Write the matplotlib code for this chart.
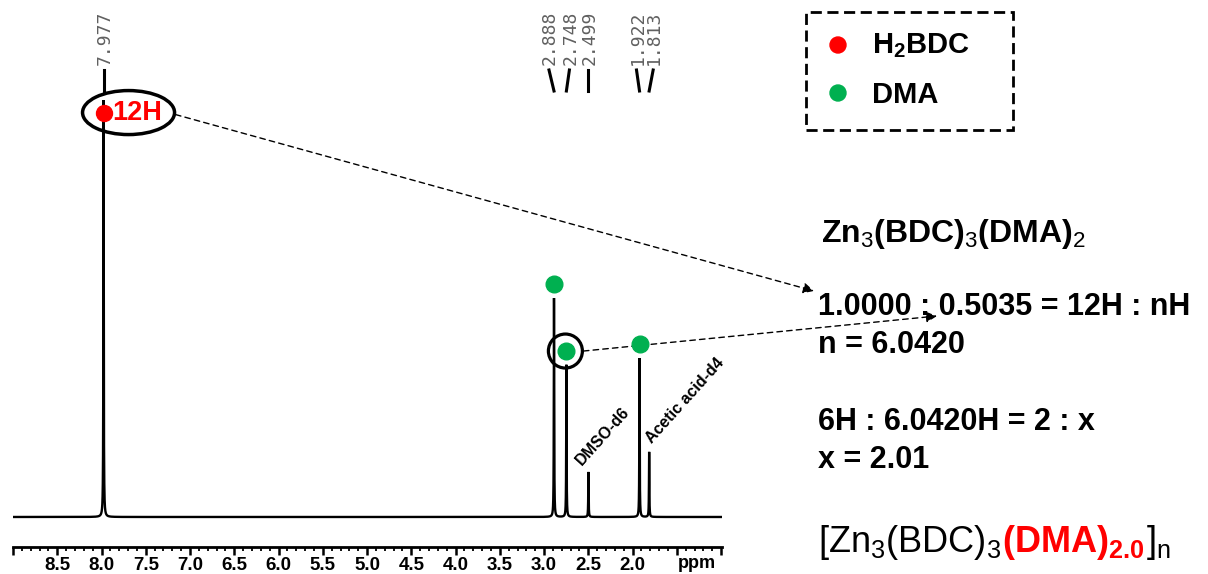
import numpy as np
import matplotlib
matplotlib.use("Agg")
import matplotlib.pyplot as plt
from matplotlib.patches import Ellipse, Rectangle, Circle
from matplotlib.lines import Line2D

plt.rcParams['font.family'] = ['Liberation Sans', 'DejaVu Sans']
plt.rcParams['mathtext.fontset'] = 'custom'
plt.rcParams['mathtext.rm'] = 'Liberation Sans'
plt.rcParams['mathtext.bf'] = 'Liberation Sans:bold'
plt.rcParams['mathtext.it'] = 'Liberation Sans:italic'

"""1H NMR peak list (ppm, relative height)"""
peak_ppm = [7.977, 2.888, 2.748, 2.499, 1.922, 1.813]
peak_height = [100.0, 52.5, 36.5, 10.8, 38.1, 15.6]
peak_labels = ["7.977", "2.888", "2.748", "2.499", "1.922", "1.813"]

# which peaks carry a marker: H2BDC (red) or DMA (green)
h2bdc_peaks = [7.977]
dma_peaks = [2.888, 2.748, 1.922]
solvent_peaks = {"DMSO-d6": 2.499, "Acetic acid-d4": 1.813}

major_ticks = [9.0, 8.5, 8.0, 7.5, 7.0, 6.5, 6.0, 5.5, 5.0, 4.5, 4.0, 3.5, 3.0, 2.5, 2.0, 1.5, 1.0]
tick_labels = ["", "8.5", "8.0", "7.5", "7.0", "6.5", "6.0", "5.5", "5.0", "4.5",
               "4.0", "3.5", "3.0", "2.5", "2.0", "", ""]

calc_lines = ["1.0000 : 0.5035 = 12H : nH", "n = 6.0420", "6H : 6.0420H = 2 : x", "x = 2.01"]

RED = "#ff0000"
GREEN = "#00b050"
W, H, DPI = 1208, 574, 100

fig = plt.figure(figsize=(W / DPI, H / DPI), dpi=DPI)


def px(x, y):
    """pixel position measured from the top-left corner -> inches for dpi_scale_trans"""
    return x / DPI, (H - y) / DPI


inch = fig.dpi_scale_trans

ax = fig.add_axes([13 / W, 1 - 547 / H, (722 - 13) / W, 547 / H])
ax.set_xlim(9.0, 0.99)
ax.set_ylim(-7.2, 124)

# spectrum built from the peak list (Lorentzian lines)
x = np.linspace(9.0, 0.99, 16021)
gamma = 0.0025
y = np.zeros_like(x)
for p, h in zip(peak_ppm, peak_height):
    y += h * gamma ** 2 / ((x - p) ** 2 + gamma ** 2)
ax.plot(x, y, color="black", lw=1.7, solid_joinstyle="miter")

for s in ["top", "left", "right"]:
    ax.spines[s].set_visible(False)
ax.spines["bottom"].set_linewidth(2)
ax.set_yticks([])
ax.set_xticks(major_ticks)
ax.set_xticklabels(tick_labels, fontweight="bold", fontsize=13.5)
ax.xaxis.set_minor_locator(matplotlib.ticker.MultipleLocator(0.1))
ax.tick_params(axis="x", which="major", length=6, width=1.8, pad=1)
ax.tick_params(axis="x", which="minor", length=3, width=1.3)
ax.patch.set_alpha(0)
fig.text(697 / W, 1 - 563 / H, "ppm", fontweight="bold", fontsize=13, ha="center", va="center")


def data_px(p, h):
    """data coords -> pixel position measured from the top"""
    dx, dy = ax.transData.transform((p, h))
    return dx, H - dy


# peak labels with connectors
label_shift = [0, -5, 3, 0, -3, 4]
for p, h, lab, sh in zip(peak_ppm, peak_height, peak_labels, label_shift):
    xp, _ = data_px(p, h)
    xl = xp + sh
    fig.text(*px(xl + 1, 65), lab, transform=inch, rotation=90, ha="center", va="bottom",
             fontsize=13, family="DejaVu Sans Mono", color="#606060")
    x0, y0 = px(xl, 70)
    x1, y1 = px(xp, 91)
    fig.add_artist(Line2D([x0, x1], [y0, y1], transform=inch, color="black", lw=2.2))

# H2BDC marker and 12H annotation
for p in h2bdc_peaks:
    h = peak_height[peak_ppm.index(p)]
    ax.plot(p, h - 3, "o", color=RED, ms=11.5, zorder=5)
    cx, cy = data_px(p, h - 3)
    fig.add_artist(Ellipse(px(cx + 25, cy), 0.92, 0.44, transform=inch, fill=False, lw=2.5, color="black"))
    fig.text(*px(cx + 9, cy), "12H", transform=inch, color=RED, fontsize=19.5, fontweight="bold",
             ha="left", va="center")
    ax.annotate("", xy=px(814, 291), xycoords=inch, xytext=px(cx + 72, cy + 2), textcoords=inch,
                arrowprops=dict(arrowstyle="-|>", color="black", lw=1, linestyle=(0, (4, 3)),
                                mutation_scale=16, shrinkA=0, shrinkB=0))

# DMA markers
for p in dma_peaks:
    h = peak_height[peak_ppm.index(p)]
    ax.plot(p, h + 3.3, "o", color=GREEN, ms=12, zorder=5)

# circled DMA peak used for the integral ratio
cx, cy = data_px(2.748, peak_height[2] + 3.3)
fig.add_artist(Circle(px(cx - 1, cy), 0.17, transform=inch, fill=False, lw=2.3, color="black"))
ax.annotate("", xy=px(937, 316), xycoords=inch, xytext=px(cx + 17, cy), textcoords=inch,
            arrowprops=dict(arrowstyle="-|>", color="black", lw=1, linestyle=(0, (4, 3)),
                            mutation_scale=16, shrinkA=0, shrinkB=0))

# solvent labels
solvent_offset = {"DMSO-d6": (-7, -6), "Acetic acid-d4": (3, -8)}
for name, p in solvent_peaks.items():
    h = peak_height[peak_ppm.index(p)]
    xp, yp = data_px(p, h)
    dx, dy = solvent_offset[name]
    fig.text(*px(xp + dx, yp + dy), name, transform=inch, rotation=48, rotation_mode="anchor",
             ha="left", va="baseline", fontsize=11.5, fontweight="bold")

# legend box
fig.add_artist(Rectangle(px(806, 130), 2.07, 1.18, transform=inch, fill=False, lw=2,
                         linestyle=(0, (4, 2)), color="black"))
fig.add_artist(Circle(px(838, 45), 0.08, transform=inch, color=RED))
fig.add_artist(Circle(px(838, 93), 0.08, transform=inch, color=GREEN))
fig.text(*px(872, 53), r"$\mathbf{H}_{\mathbf{2}}\mathbf{BDC}$", transform=inch, fontsize=21,
         ha="left", va="baseline")
fig.text(*px(872, 103), "DMA", transform=inch, fontsize=21, fontweight="bold", ha="left", va="baseline")

# formula and integral calculation
fig.text(*px(821, 242), r"$\mathbf{Zn}_{3}\mathbf{(BDC)}_{3}\mathbf{(DMA)}_{2}$", transform=inch,
         fontsize=23, ha="left", va="baseline")
for txt, base in zip(calc_lines, [315, 353, 430, 468]):
    fig.text(*px(818, base), txt, transform=inch, fontsize=22, fontweight="bold", ha="left", va="baseline")

renderer = fig.canvas.get_renderer()
xpos = 818
for txt, col in [(r"$\mathrm{[Zn}_{3}\mathrm{(BDC)}_{3}$", "black"),
                 (r"$\mathbf{(DMA)}_{\mathbf{2.0}}$", RED),
                 (r"$\mathrm{]}_{\mathrm{n}}$", "black")]:
    t = fig.text(*px(xpos, 552), txt, transform=inch, fontsize=26, color=col, ha="left", va="baseline")
    xpos = t.get_window_extent(renderer).x1 + 1

fig.savefig("out.png", dpi=DPI)
